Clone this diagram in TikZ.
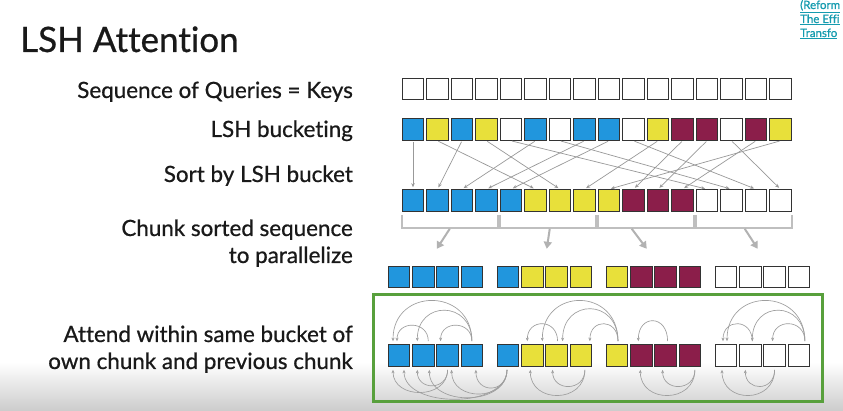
\documentclass[tikz,border=0pt]{standalone}
\usepackage{fontspec}
\setmainfont{Lato}[Ligatures=NoCommon,FakeBold=0.7]
\usetikzlibrary{arrows.meta,calc}
\definecolor{qblue}{RGB}{33,150,221}
\definecolor{qyellow}{RGB}{232,224,58}
\definecolor{qred}{RGB}{139,30,74}
\definecolor{qgreen}{RGB}{88,160,60}
\definecolor{qlink}{RGB}{20,155,175}
\definecolor{qtext}{RGB}{25,25,25}

\begin{document}
\begin{tikzpicture}[x=1pt,y=-1pt,
    cell/.style={draw=black!80,line width=1.1pt,minimum size=21.5pt,inner sep=0pt},
    bq/.style={cell,fill=qblue},
    yq/.style={cell,fill=qyellow},
    rq/.style={cell,fill=qred},
    wq/.style={cell,fill=white},
    lbl/.style={anchor=base east,inner sep=0pt,text=qtext,font=\fontsize{22.4}{26}\selectfont},
    reflink/.style={anchor=base west,inner sep=0pt,text=qlink,font=\fontsize{11.5}{13}\selectfont},
    sortarrow/.style={draw=black!40,line width=0.7pt,-{Stealth[length=4pt,width=3.5pt]},shorten <=1pt,shorten >=2pt},
    brace/.style={draw=black!25,line width=2.3pt},
    chunkarrow/.style={draw=black!30,line width=2pt,-{Triangle[length=7pt,width=8pt]}},
    attn/.style={draw=black!38,line width=0.65pt,-{Stealth[length=3.5pt,width=3pt]}},
    frame/.style={draw=qgreen,line width=3pt}]

\useasboundingbox (0,0) rectangle (843,411);
\fill[white] (0,0) rectangle (843,411);
\shade[top color=white,bottom color=black!20] (0,362) rectangle (843,411);

\node[anchor=base west,inner sep=0pt,text=qtext,font=\fontsize{35}{42}\selectfont] (title) at (20,52) {LSH Attention};
\node[reflink] (ref1) at (800,9) {\underline{(Reform}};
\node[reflink] (ref2) at (800,23) {\underline{The Effi}};
\node[reflink] (ref3) at (800,37) {\underline{Transfo}};

\node[lbl] (l1) at (353,98) {Sequence of Queries = Keys};
\node[lbl] (l2) at (353,137) {LSH bucketing};
\node[lbl] (l3) at (353,182) {Sort by LSH bucket};
\node[lbl] (l4) at (353,236) {Chunk sorted sequence};
\node[lbl] (l5) at (353,263) {to parallelize};
\node[lbl] (l6) at (353,342) {Attend within same bucket of};
\node[lbl] (l7) at (353,369) {own chunk and previous chunk};

\foreach \i in {1,...,16}
    \node[wq] (q\i) at ({413+24.5*(\i-1)},89) {};
\foreach \c [count=\i] in {bq,yq,bq,yq,wq,bq,wq,bq,bq,wq,yq,rq,rq,wq,rq,yq}
    \node[\c] (h\i) at ({413+24.5*(\i-1)},129.5) {};
\foreach \c [count=\i] in {bq,bq,bq,bq,bq,yq,yq,yq,yq,rq,rq,rq,wq,wq,wq,wq}{
    \node[\c] (s\i) at ({413+24.5*(\i-1)},200.5) {};
    \pgfmathsetmacro\xx{399+109*int((\i-1)/4)+24.3*mod(\i-1,4)}
    \node[\c] (c\i) at (\xx,277) {};
    \node[\c] (a\i) at (\xx,355.5) {};
}

\foreach \i/\j in {1/1,2/6,3/2,4/7,5/13,6/3,7/14,8/4,9/5,10/15,11/8,12/10,13/11,14/16,15/12,16/9}
    \draw[sortarrow] (h\i.south) -- (s\j.north);

\foreach \k/\off/\dx in {1/0/-13,2/2/-3,3/-14/15,4/1/13}{
    \pgfmathtruncatemacro\fa{4*\k-3}
    \pgfmathtruncatemacro\fb{4*\k}
    \draw[brace] ([yshift=-3pt]s\fa.south west) -- ++(0,13) -| ([yshift=-3pt]s\fb.south east);
    \coordinate (br\k) at ($(s\fa.south west)!0.5!(s\fb.south east)+(\off,17)$);
    \draw[chunkarrow] (br\k) -- ++(\dx,20);
}

\foreach \s/\ss/\t/\ts/\h in {4/0pt/1/-6pt/54,4/0pt/2/-6pt/41,4/0pt/3/-7pt/21,2/5pt/1/-2pt/21,
    7/1pt/6/-5pt/23,9/1pt/6/10pt/54,9/1pt/7/6pt/43,9/1pt/8/9pt/23,11/2pt/10/-3pt/27,
    16/6pt/13/1pt/54,16/6pt/14/2pt/41,16/6pt/15/-2pt/23,14/2pt/13/-3pt/23}
    \draw[attn] ([xshift=\ss,yshift=3pt]a\s.north) .. controls +(0,-\h) and +(0,-\h) .. ([xshift=\ts,yshift=3pt]a\t.north);
\foreach \s/\ss/\t/\ts/\h in {3/0pt/1/-6pt/30,3/0pt/2/-6pt/21,5/-1pt/4/4pt/24,5/-1pt/3/4pt/32,
    5/-1pt/2/6pt/37,5/-1pt/1/5pt/39,8/4pt/6/-2pt/34,8/4pt/7/-4pt/22,
    12/5pt/10/-1pt/34,12/5pt/11/-3pt/22,15/0pt/13/-4pt/34,15/0pt/14/-5pt/22}
    \draw[attn] ([xshift=\ss,yshift=-3pt]a\s.south) .. controls +(0,\h) and +(0,\h) .. ([xshift=\ts,yshift=-3pt]a\t.south);

\draw[frame] (373,295) rectangle (822,401);
\end{tikzpicture}
\end{document}
